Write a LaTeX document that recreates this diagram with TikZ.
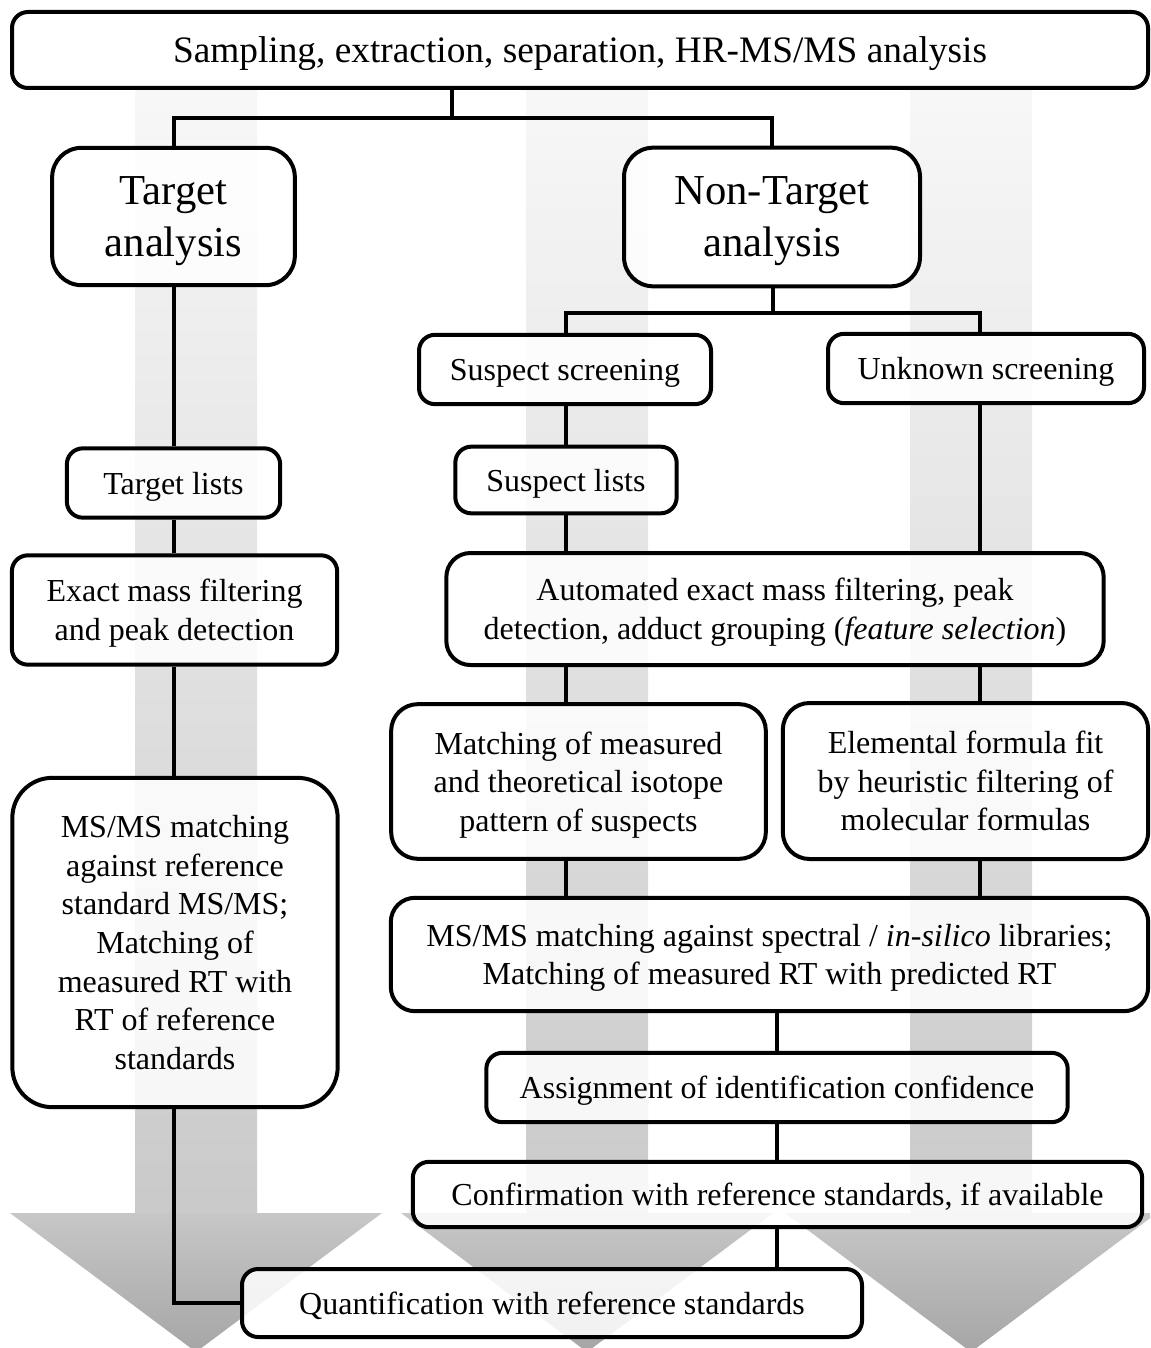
\documentclass[tikz,border=0pt]{standalone}
\usepackage{fontspec}
\setmainfont{Liberation Serif}

\tikzset{
  box/.style={draw, line width=3pt, rounded corners=12pt, fill=white, fill opacity=0.85,
    text opacity=1, align=center, inner sep=0pt, text depth=0pt, font=\fontsize{24}{29}\selectfont},
  bigbox/.style={box, rounded corners=22pt, font=\fontsize{32}{39}\selectfont},
  link/.style={line width=3pt},
}

\begin{document}
\begin{tikzpicture}[x=0.75pt, y=-0.75pt]
        \clip (0,0) rectangle (1150,1348);
        \def\shaft{61}
        \def\head{186}

        % Background arrows: shaft, then head
        \shade[top color=gray!6, bottom color=gray!42] ({196-\shaft},90) rectangle ({196+\shaft},1214);
        \shade[top color=gray!44, bottom color=gray!70] ({196-\head},1213) -- ({196+\head},1213) -- (196,1352) -- cycle;
        \shade[top color=gray!6, bottom color=gray!42] ({587-\shaft},90) rectangle ({587+\shaft},1214);
        \shade[top color=gray!44, bottom color=gray!70] ({587-\head},1213) -- ({587+\head},1213) -- (587,1352) -- cycle;
        \shade[top color=gray!6, bottom color=gray!42] ({971-\shaft},90) rectangle ({971+\shaft},1214);
        \shade[top color=gray!44, bottom color=gray!70] ({971-\head},1213) -- ({971+\head},1213) -- (971,1352) -- cycle;

        % Top
        \node[box, minimum width=852pt, minimum height=57pt, font=\fontsize{28}{33}\selectfont] (top) at (580,50)
          {Sampling,\ extraction,\ separation,\ HR-MS/MS analysis};
        \node[bigbox, minimum width=182pt, minimum height=103pt] (target) at (173.5,216.5) {Target\\analysis};
        \node[bigbox, minimum width=222pt, minimum height=104pt] (nontarget) at (772,217) {Non-Target\\analysis};

        % Target branch
        \node[box, minimum width=160pt, minimum height=52pt] (tlists) at (173.5,483) {Target lists};
        \node[box, minimum width=244pt, minimum height=82pt] (exact) at (174.5,610)
          {Exact mass filtering\\and peak detection};
        \node[box, rounded corners=30pt, minimum width=244pt, minimum height=247pt] (msms) at (175,942.5)
          {MS/MS matching\\against reference\\standard MS/MS;\\Matching of\\measured RT with\\RT of reference\\standards};

        % Non-target branch
        \node[box, minimum width=219pt, minimum height=52pt] (sscreen) at (565,369.5) {Suspect screening};
        \node[box, minimum width=237pt, minimum height=52pt] (uscreen) at (986,368.5) {Unknown screening};
        \node[box, minimum width=166pt, minimum height=50pt] (slists) at (566,480) {Suspect lists};
        \node[box, rounded corners=18pt, minimum width=493pt, minimum height=84pt] (auto) at (775,609)
          {Automated exact mass filtering, peak\\detection, adduct grouping (\textit{feature selection})};
        \node[box, rounded corners=20pt, minimum width=281pt, minimum height=116pt] (isotope) at (578.5,781.5)
          {Matching of measured\\and theoretical isotope\\pattern of suspects};
        \node[box, rounded corners=20pt, minimum width=274pt, minimum height=117pt] (formula) at (965.5,781)
          {Elemental formula fit\\by heuristic filtering of\\molecular formulas};
        \node[box, rounded corners=18pt, minimum width=568pt, minimum height=85pt] (spectral) at (769.5,954.5)
          {MS/MS matching against spectral / \textit{in-silico} libraries;\\Matching of measured RT with predicted RT};
        \node[box, minimum width=436pt, minimum height=52pt] (assign) at (777,1087.5)
          {Assignment of identification confidence};
        \node[box, minimum width=547pt, minimum height=49pt] (confirm) at (777.5,1194.5)
          {Confirmation with reference standards, if available};
        \node[box, minimum width=465pt, minimum height=51pt] (quant) at (552,1303)
          {Quantification with reference standards};

        % Connectors
        \coordinate (split) at (452,118);
        \coordinate (nsplit) at (773,313);
        \coordinate (tcol) at (174,0);
        \coordinate (lcol) at (566,0);
        \coordinate (rcol) at (980,0);
        \coordinate (mcol) at (777,0);

        \draw[link] (split |- top.south) -- (split);
        \draw[link] (target.north) |- (split) -| (nontarget.north);
        \draw[link] (nsplit |- nontarget.south) -- (nsplit);
        \draw[link] (lcol |- sscreen.north) |- (nsplit) -| (rcol |- uscreen.north);

        \draw[link] (tcol |- target.south) -- (tcol |- tlists.north);
        \draw[link] (tcol |- tlists.south) -- (tcol |- exact.north);
        \draw[link] (tcol |- exact.south) -- (tcol |- msms.north);
        \draw[link] (tcol |- msms.south) |- (quant.west);

        \draw[link] (lcol |- sscreen.south) -- (lcol |- slists.north);
        \draw[link] (lcol |- slists.south) -- (lcol |- auto.north);
        \draw[link] (rcol |- uscreen.south) -- (rcol |- auto.north);
        \draw[link] (lcol |- auto.south) -- (lcol |- isotope.north);
        \draw[link] (rcol |- auto.south) -- (rcol |- formula.north);
        \draw[link] (lcol |- isotope.south) -- (lcol |- spectral.north);
        \draw[link] (rcol |- formula.south) -- (rcol |- spectral.north);
        \draw[link] (mcol |- spectral.south) -- (mcol |- assign.north);
        \draw[link] (mcol |- assign.south) -- (mcol |- confirm.north);
        \draw[link] (mcol |- confirm.south) -- (mcol |- quant.north);
    \end{tikzpicture}
\end{document}
